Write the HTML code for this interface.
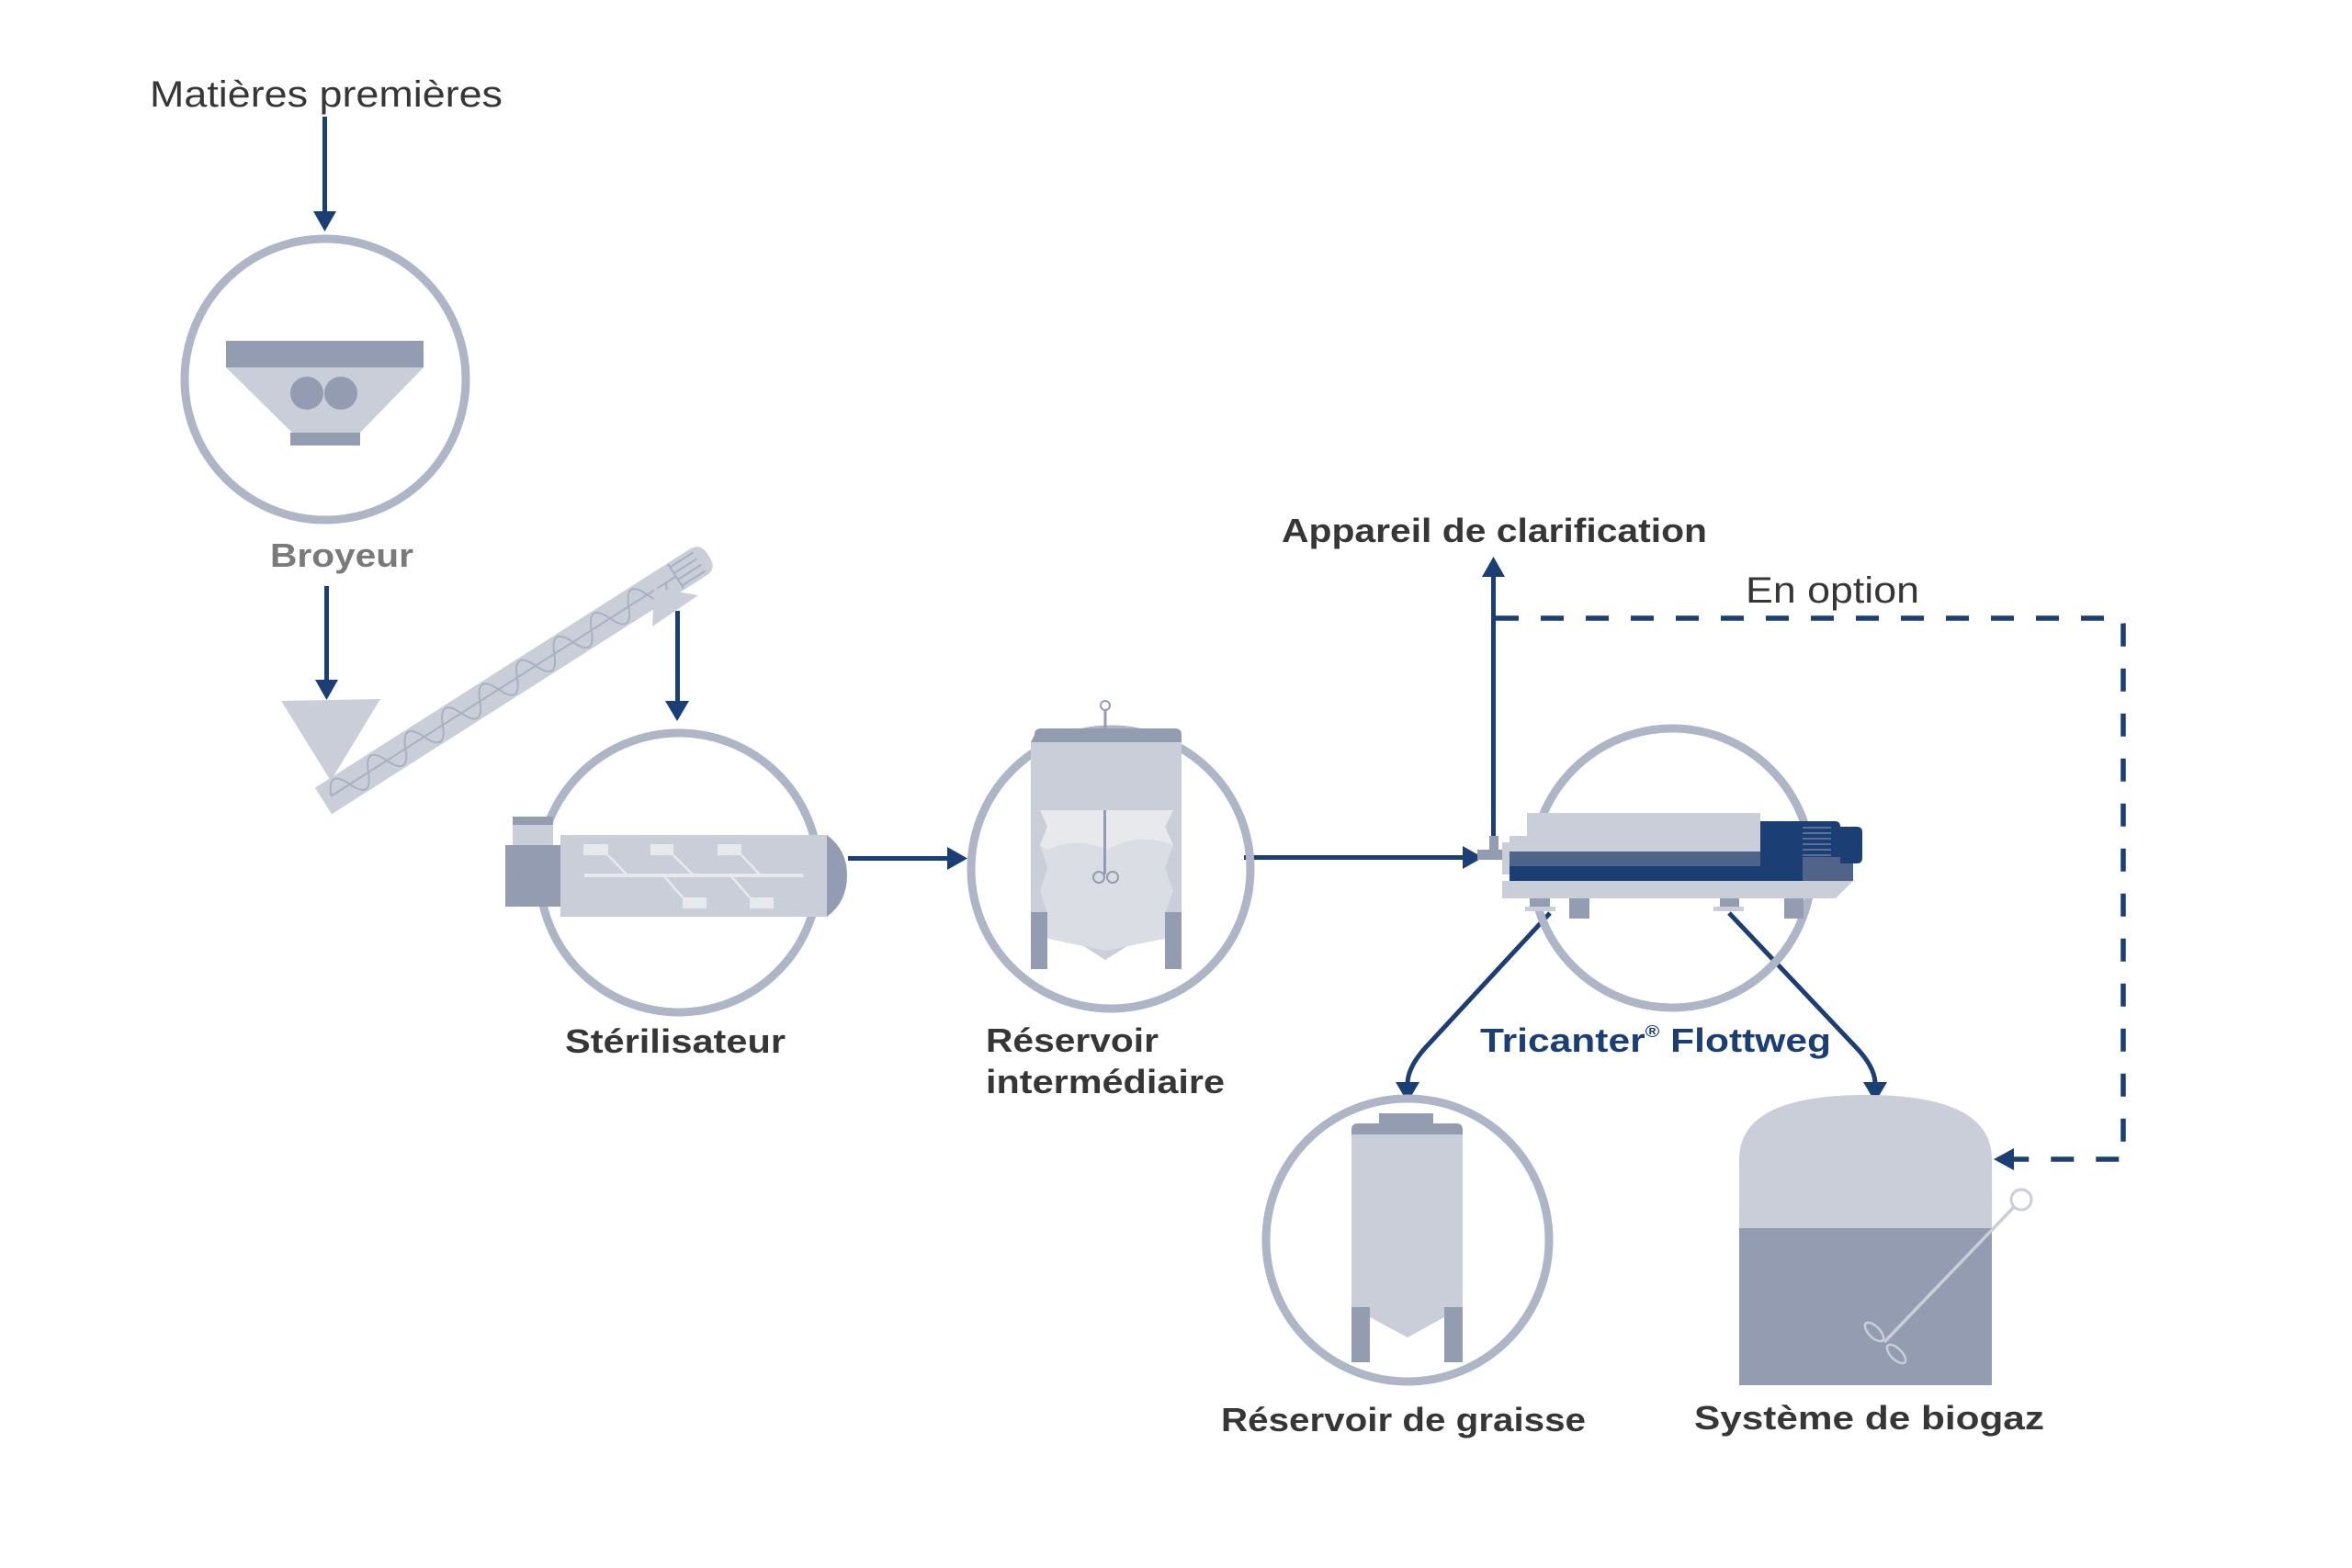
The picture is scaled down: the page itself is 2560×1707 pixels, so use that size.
<!DOCTYPE html>
<html><head><meta charset="utf-8"><style>
html,body{margin:0;padding:0;background:#fff;}
svg{display:block;}
text{font-family:"Liberation Sans",sans-serif;}
.b{font-weight:bold;fill:#363637;font-size:36px;}
</style></head><body>
<svg width="2560" height="1707" viewBox="0 0 2560 1707" xmlns="http://www.w3.org/2000/svg">
<g fill="#1b3e74">
<rect x="351" y="127" width="5" height="105"/><polygon points="341,230 366,230 353.5,252"/>
<rect x="353" y="638" width="5" height="104"/><polygon points="343,740 368,740 355.5,762"/>
<rect x="735" y="665" width="5" height="100"/><polygon points="724,763 750,763 737,785"/>
<rect x="923" y="932" width="110" height="5"/><polygon points="1031,922 1031,947 1053,934.5"/>
<rect x="1354" y="931" width="240" height="5"/><polygon points="1592,921 1592,946 1614,933.5"/>
<rect x="1623" y="625" width="5" height="300"/><polygon points="1613,628 1638,628 1625.5,606"/>
<polygon points="2170,1262 2192,1250 2192,1274"/>
</g>
<g fill="none" stroke="#1b3e74" stroke-width="5">
<path d="M1687,994 L1552,1140 Q1532,1162 1532,1180"/>
<path d="M1882,994 L2020,1140 Q2041,1162 2041,1180"/>
<path d="M1628,673 L2304,673 Q2311,673 2311,680 L2311,1262 L2192,1262" stroke-width="5.5" stroke-dasharray="25,24"/>
</g>
<g fill="#1b3e74"><polygon points="1519,1178 1545,1178 1532,1200"/><polygon points="2028,1178 2054,1178 2041,1200"/></g>
<g fill="none" stroke="#aeb5c6" stroke-width="9">
<circle cx="354" cy="413" r="153"/>
<circle cx="739" cy="950" r="152"/>
<circle cx="1209" cy="946" r="152"/>
<circle cx="1820" cy="945" r="152"/>
<circle cx="1532" cy="1350" r="154"/>
</g>
<rect x="246" y="371" width="215" height="29" fill="#949cb1"/>
<polygon points="246,400 461,400 392,471 318,471" fill="#c9ced8"/>
<rect x="316" y="471" width="76" height="14" fill="#949cb1"/>
<circle cx="334" cy="428" r="18" fill="#949cb1"/><circle cx="371" cy="428" r="18" fill="#949cb1"/>
<polygon points="306,763 414,761 360,850" fill="#c9ced8"/>
<g transform="translate(352,872) rotate(-32.5)">
<path d="M0,-17 L483,-17 Q497,-17 497,-3 L497,3 Q497,17 483,17 L0,17 Z" fill="#c9ced8"/>
<line x1="10" y1="0" x2="455" y2="0" stroke="#a9b0c2" stroke-width="2"/>
<path d="M10,0 q12,-28 24,0 t24,0 t24,0 t24,0 t24,0 t24,0 t24,0 t24,0 t24,0 t24,0 t24,0 t24,0 t24,0 t24,0 t24,0 t24,0 t24,0 t24,0" fill="none" stroke="#a9b0c2" stroke-width="2"/>
<g stroke="#a9b0c2" stroke-width="2"><line x1="455" y1="-12" x2="485" y2="-12"/><line x1="455" y1="-4" x2="485" y2="-4"/><line x1="455" y1="4" x2="485" y2="4"/><line x1="455" y1="12" x2="485" y2="12"/><line x1="455" y1="-16" x2="455" y2="16"/></g>
</g>
<polygon points="710,682 712,640 760,648" fill="#c9ced8"/>
<rect x="558" y="889" width="44" height="31" fill="#c9ced8"/><rect x="558" y="889" width="44" height="9" fill="#949cb1"/>
<rect x="550" y="920" width="60" height="67" fill="#949cb1"/>
<rect x="610" y="909" width="290" height="89" fill="#c9ced8"/>
<path d="M900,909 Q922,925 922,953 Q922,982 900,998 Z" fill="#949cb1"/>
<g fill="#e8e9ec"><rect x="636" y="951" width="238" height="4"/>
<rect x="635" y="919" width="27" height="12"/><rect x="708" y="919" width="25" height="12"/><rect x="781" y="919" width="26" height="12"/>
<rect x="743" y="977" width="26" height="12"/><rect x="816" y="977" width="26" height="12"/></g>
<g stroke="#e8e9ec" stroke-width="2.5"><line x1="662" y1="931" x2="683" y2="953"/><line x1="733" y1="931" x2="755" y2="953"/><line x1="807" y1="931" x2="828" y2="953"/><line x1="722" y1="953" x2="743" y2="977"/><line x1="795" y1="953" x2="816" y2="977"/></g>
<line x1="1203" y1="772" x2="1203" y2="795" stroke="#949cb1" stroke-width="3"/><circle cx="1203" cy="768" r="5" fill="#fff" stroke="#949cb1" stroke-width="2"/>
<path d="M1122,993 L1122,808 L1286,808 L1286,993 L1203,1045 Z" fill="#c9ced8"/>
<path d="M1126,800 Q1126,793 1133,793 L1279,793 Q1286,793 1286,800 L1286,808 L1122,808 Z" fill="#949cb1"/>
<path d="M1132,882 L1277,882 L1268,900 L1277,920 L1268,945 L1277,970 L1268,995 L1277,1020 L1203,1035 L1132,1020 L1140,995 L1132,970 L1140,945 L1132,920 L1140,900 Z" fill="#dadde3"/>
<path d="M1132,882 L1277,882 L1268,900 L1277,920 Q1240,905 1205,925 Q1170,910 1140,925 L1132,920 L1140,900 Z" fill="#e8e9ec"/>
<rect x="1201" y="882" width="3" height="70" fill="#949cb1"/>
<circle cx="1196" cy="955" r="6" fill="none" stroke="#949cb1" stroke-width="2"/><circle cx="1211" cy="955" r="6" fill="none" stroke="#949cb1" stroke-width="2"/>
<rect x="1122" y="993" width="18" height="62" fill="#949cb1"/><rect x="1268" y="993" width="18" height="62" fill="#949cb1"/>
<rect x="1608" y="925" width="27" height="11" fill="#949cb1"/><rect x="1621" y="910" width="10" height="15" fill="#949cb1"/>
<rect x="1635" y="917" width="10" height="35" fill="#c9ced8"/>
<rect x="1643" y="910" width="20" height="20" fill="#c9ced8"/>
<rect x="1662" y="885" width="254" height="45" fill="#c9ced8"/>
<rect x="1643" y="927" width="273" height="16" fill="#4f6488"/>
<rect x="1643" y="943" width="319" height="16" fill="#1b3e74"/>
<path d="M1916,894 L1997,894 Q2003,894 2003,900 L2003,959 L1916,959 Z" fill="#1b3e74"/>
<rect x="1962" y="900" width="55" height="59" fill="#4f6488"/>
<rect x="1962" y="900" width="41" height="33" fill="#1b3e74"/>
<path d="M2003,900 L2021,900 Q2027,900 2027,906 L2027,934 Q2027,940 2021,940 L2003,940 Z" fill="#1b3e74"/>
<g stroke="#6f80a0" stroke-width="1.5"><line x1="1962" y1="901" x2="1993" y2="901"/><line x1="1962" y1="907" x2="1993" y2="907"/><line x1="1962" y1="913" x2="1993" y2="913"/><line x1="1962" y1="919" x2="1993" y2="919"/><line x1="1962" y1="925" x2="1993" y2="925"/><line x1="1962" y1="931" x2="1993" y2="931"/></g>
<polygon points="1635,959 2017,959 1998,978 1635,978" fill="#c9ced8"/>
<g fill="#949cb1"><rect x="1665" y="978" width="22" height="10"/><rect x="1708" y="978" width="22" height="22"/><rect x="1872" y="978" width="21" height="10"/><rect x="1942" y="978" width="21" height="22"/></g>
<g fill="#c9ced8"><rect x="1660" y="987" width="33" height="5"/><rect x="1865" y="987" width="33" height="5"/></g>
<rect x="1501" y="1212" width="59" height="12" fill="#949cb1"/>
<path d="M1471,1230 Q1471,1223 1478,1223 L1585,1223 Q1592,1223 1592,1230 L1592,1235 L1471,1235 Z" fill="#949cb1"/>
<path d="M1471,1235 L1592,1235 L1592,1423 L1532,1456 L1471,1423 Z" fill="#c9ced8"/>
<rect x="1471" y="1423" width="20" height="60" fill="#949cb1"/><rect x="1572" y="1423" width="20" height="60" fill="#949cb1"/>
<polygon points="1491,1423 1532,1446 1572,1423 1572,1430 1532,1456 1491,1430" fill="#c9ced8"/>
<path d="M1893,1337 L1893,1262 Q1893,1192 2031,1192 Q2168,1192 2168,1262 L2168,1337 Z" fill="#c9ced8"/>
<rect x="1893" y="1337" width="275" height="171" fill="#949cb1"/>
<line x1="2192" y1="1314" x2="2051" y2="1461" stroke="#c9ced8" stroke-width="3.5"/>
<circle cx="2200" cy="1306" r="11" fill="#fff" stroke="#c9ced8" stroke-width="3"/>
<ellipse cx="2040" cy="1450" rx="13" ry="6" transform="rotate(45 2040 1450)" fill="none" stroke="#c9ced8" stroke-width="2.5"/>
<ellipse cx="2064" cy="1474" rx="13" ry="6" transform="rotate(45 2064 1474)" fill="none" stroke="#c9ced8" stroke-width="2.5"/>
<text x="163" y="116" font-size="40" fill="#363637" textLength="384" lengthAdjust="spacingAndGlyphs">Matières premières</text>
<text x="294" y="617" class="b" style="fill:#7a7a7b" textLength="156" lengthAdjust="spacingAndGlyphs">Broyeur</text>
<text x="615" y="1146" class="b" textLength="240" lengthAdjust="spacingAndGlyphs">Stérilisateur</text>
<text x="1073" y="1145" class="b" textLength="188" lengthAdjust="spacingAndGlyphs">Réservoir</text>
<text x="1073" y="1190" class="b" textLength="260" lengthAdjust="spacingAndGlyphs">intermédiaire</text>
<text x="1395" y="590" class="b" textLength="463" lengthAdjust="spacingAndGlyphs">Appareil de clarification</text>
<text x="1900" y="656" font-size="40" fill="#363637" textLength="189" lengthAdjust="spacingAndGlyphs">En option</text>
<text x="1611" y="1145" class="b" style="fill:#1b3e74" textLength="382" lengthAdjust="spacingAndGlyphs">Tricanter<tspan font-size="18" dy="-16">®</tspan><tspan dy="16"> Flottweg</tspan></text>
<text x="1329" y="1558" class="b" textLength="397" lengthAdjust="spacingAndGlyphs">Réservoir de graisse</text>
<text x="1844" y="1556" class="b" textLength="381" lengthAdjust="spacingAndGlyphs">Système de biogaz</text>
</svg>
</body></html>
